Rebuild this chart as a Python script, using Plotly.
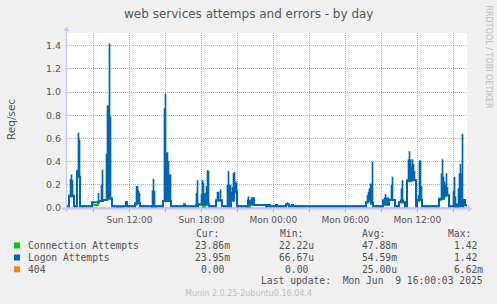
import plotly.graph_objects as go
from datetime import datetime, timedelta

# ---------------- data ----------------
start = datetime(2025, 6, 8, 6, 48)   # left edge of graph (Sun 06:48)
step_min = 5                           # one sample every 5 minutes
n_slots = 400                          # 2000 minutes shown

B = 0.015  # quiet baseline, req/sec

# Logon Attempts - lower profile (slot where value changes, value)
logon_slot = [0, 2, 7, 10, 11, 13, 25, 32, 36, 40, 45, 59, 60, 68, 73, 96, 104, 117, 118,
              131, 142, 149, 155, 164, 167, 170, 181, 183, 185, 187, 199, 201, 203, 209, 210,
              219, 222, 225, 226, 299, 301, 304, 306, 316, 317, 322, 328, 332, 334, 336, 338,
              340, 349, 350, 355, 372, 377, 382, 389, 391, 396, 398]
logon_val = [B, 0.10, B, 0.32, 0.27, B, 0.05, 0.06, 0.07, 0.085, B, 0.05, B, 0.04, B, 0.06, B, 0.03, B,
             0.03, B, 0.065, B, 0.065, 0.14, B, 0.065, 0.03, 0.085, 0.025, B, 0.025, B, 0.025, B,
             0.03, B, 0.025, B, 0.05, 0.065, 0.045, B, 0.065, 0.035, 0.07, B, 0.05, 0.065, 0.05, B,
             0.24, B, 0.07, B, 0.08, 0.11, B, 0.03, B, 0.07, 0.02395]

# Logon Attempts - short bursts within a 5-minute slot (slot, peak)
burst_slot = [3, 4, 5, 11, 12,
              31, 34, 35, 39, 40, 41, 42, 43,
              69, 70, 71, 72, 85, 86, 87,
              97, 98, 99, 100, 101, 102, 103,
              129, 130, 134, 135, 136, 137, 138, 139, 140, 141,
              150, 151, 153,
              160, 161, 162, 163, 164, 165, 166, 167, 168, 169,
              181, 220,
              300, 301, 302, 303, 304, 305,
              317, 318, 319, 320, 321, 324, 325,
              334, 335,
              341, 342, 343, 344, 345, 346, 347,
              351, 352, 353, 354,
              374, 375, 376, 377, 378, 379, 380,
              386, 387, 388, 391, 392, 393, 394, 395]
burst_peak = [0.25, 0.29, 0.24, 0.65, 0.59,
              0.13, 0.20, 0.33, 0.47, 0.885, 0.885, 1.42, 0.79,
              0.19, 0.19, 0.15, 0.13, 0.15, 0.25, 0.15,
              0.86, 0.986, 0.48, 0.48, 0.405, 0.29, 0.29,
              0.13, 0.24, 0.12, 0.24, 0.22, 0.125, 0.13, 0.19, 0.325, 0.32,
              0.14, 0.14, 0.16,
              0.20, 0.32, 0.20, 0.20, 0.14, 0.18, 0.30, 0.31, 0.23, 0.22,
              0.10, 0.05,
              0.11, 0.14, 0.17, 0.21, 0.21, 0.40,
              0.09, 0.12, 0.09, 0.09, 0.09, 0.20, 0.27,
              0.17, 0.24,
              0.42, 0.49, 0.42, 0.37, 0.42, 0.38, 0.32,
              0.11, 0.41, 0.41, 0.19,
              0.30, 0.42, 0.27, 0.23, 0.20, 0.30, 0.18,
              0.15, 0.27, 0.10, 0.17, 0.30, 0.38, 0.30, 0.64]

# Connection Attempts (mostly hidden beneath Logon Attempts)
conn_slot = [0, 2, 7, 10, 11, 13, 25, 31, 32, 36, 40, 45, 50, 56, 59, 60, 68, 70, 73, 84, 89, 96, 104,
             117, 118, 129, 136, 138, 142, 149, 155, 164, 167, 170, 181, 183, 185, 187, 199, 201, 203,
             209, 210, 219, 222, 225, 226, 299, 301, 304, 306, 316, 317, 322, 328, 332, 334, 336, 338,
             340, 344, 349, 350, 352, 355, 372, 374, 377, 379, 382, 388, 391, 396, 398]
conn_val = [B, 0.108, B, 0.32, 0.27, B, 0.025, 0.05, 0.06, 0.07, 0.075, B, 0.004, B, 0.05, B, 0.028, 0.04, B,
            0.004, B, 0.06, B,
            0.03, B, 0.03, 0.01, 0.03, B, 0.065, B, 0.065, 0.13, B, 0.004, 0.03, 0.03, 0.025, B, 0.025, B,
            0.025, B, 0.03, B, 0.025, B, 0.05, 0.065, 0.035, B, 0.065, 0.025, 0.07, B, 0.05, 0.055, 0.05, B,
            0.23, 0.24, B, 0.06, 0.07, B, 0.07, 0.08, 0.10, 0.11, B, 0.004, B, 0.07, 0.02386]

# 404
err_slot = [0]
err_val = [0.0]

y_ticks = [0.0, 0.2, 0.4, 0.6, 0.8, 1.0, 1.2, 1.4]
y_tick_text = ["0.0", "0.2", "0.4", "0.6", "0.8", "1.0", "1.2", "1.4"]
grid_times = ["2025-06-08 09:00", "2025-06-08 12:00", "2025-06-08 15:00", "2025-06-08 18:00",
              "2025-06-08 21:00", "2025-06-09 00:00", "2025-06-09 03:00", "2025-06-09 06:00",
              "2025-06-09 09:00", "2025-06-09 12:00", "2025-06-09 15:00"]
grid_labels = ["", "Sun 12:00", "", "Sun 18:00", "", "Mon 00:00", "", "Mon 06:00", "", "Mon 12:00", ""]

series_names = ["Connection Attempts", "Logon Attempts", "404"]
series_colors = ["#00CC00", "#0066B3", "#FF8000"]
cur_vals = ["23.86m", "23.95m", "0.00"]
min_vals = ["22.22u", "66.67u", "0.00"]
avg_vals = ["47.88m", "54.59m", "25.00u"]
max_vals = ["1.42", "1.42", "6.62m"]
title = "web services attemps and errors - by day"
last_update = "Last update:  Mon Jun  9 16:00:03 2025"
munin_version = "Munin 2.0.25-2ubuntu0.16.04.4"

# ---------------- helpers ----------------
def t(slot):
    return start + timedelta(minutes=step_min * slot)


def step_xy(slots, vals):
    xs = [t(s) for s in slots] + [t(n_slots)]
    ys = list(vals) + [vals[-1]]
    return xs, ys


def value_at(slots, vals, s):
    v = vals[0]
    for ss, vv in zip(slots, vals):
        if ss <= s:
            v = vv
        else:
            break
    return v


W, H = 497, 304
L, R, T, Bm = 67, 30, 33, 96
PW, PH = W - L - R, H - T - Bm


def px(x):
    return (x - L) / PW


def py(y):
    return (H - Bm - y) / PH


# ---------------- figure ----------------
fig = go.Figure()

ex, ey = step_xy(err_slot, err_val)
cx, cy = step_xy(conn_slot, conn_val)
lx, ly = step_xy(logon_slot, logon_val)

fig.add_trace(go.Scatter(x=cx, y=cy, mode="lines", line=dict(color=series_colors[0], width=2, shape="hv"),
                         name=series_names[0], hoverinfo="skip"))

bx, by = [], []
for s, peak in zip(burst_slot, burst_peak):
    lo = value_at(logon_slot, logon_val, s)
    tc = start + timedelta(minutes=step_min * (s + 0.5))
    bx += [tc, tc, None]
    by += [lo, peak, None]
fig.add_trace(go.Scatter(x=bx, y=by, mode="lines", line=dict(color=series_colors[1], width=1.7),
                         name=series_names[1], hoverinfo="skip", connectgaps=False))
fig.add_trace(go.Scatter(x=lx, y=ly, mode="lines", line=dict(color=series_colors[1], width=2, shape="hv"),
                         name=series_names[1], hoverinfo="skip"))
fig.add_trace(go.Scatter(x=ex, y=ey, mode="lines", line=dict(color=series_colors[2], width=1, shape="hv"),
                         name=series_names[2], hoverinfo="skip"))

grid_color = "rgba(220,80,80,0.6)"
fig.update_xaxes(type="date", range=[t(0), t(n_slots)], tickvals=grid_times, ticktext=grid_labels,
                 showgrid=True, gridcolor=grid_color, griddash="1px,1px", gridwidth=1,
                 showline=False, zeroline=False, ticks="outside", ticklen=3, tickcolor=grid_color,
                 tickfont=dict(family="DejaVu Sans", size=9, color="#555555"), fixedrange=True)
fig.update_yaxes(range=[0, 1.51], tickvals=y_ticks, ticktext=y_tick_text,
                 showgrid=True, gridcolor=grid_color, griddash="1px,1px", gridwidth=1,
                 showline=False, zeroline=False, ticks="", ticklabelstandoff=5,
                 tickfont=dict(family="DejaVu Sans", size=9.5, color="#555555"), fixedrange=True)

axis_col = "#C8C8F8"
shapes = [
    # x axis line and arrow
    dict(type="line", xref="paper", yref="paper", x0=px(62), x1=px(469), y0=py(208.8), y1=py(208.8),
         line=dict(color=axis_col, width=2), layer="above"),
    dict(type="path", xref="paper", yref="paper",
         path=f"M {px(468)},{py(205.5)} L {px(473)},{py(208.8)} L {px(468)},{py(212)} Z",
         fillcolor=axis_col, line=dict(color=axis_col, width=0), layer="above"),
    # y axis line and arrow
    dict(type="line", xref="paper", yref="paper", x0=px(66.5), x1=px(66.5), y0=py(212), y1=py(30),
         line=dict(color=axis_col, width=1.3), layer="above"),
    dict(type="path", xref="paper", yref="paper",
         path=f"M {px(63.5)},{py(31)} L {px(66.5)},{py(26.5)} L {px(69.5)},{py(31)} Z",
         fillcolor=axis_col, line=dict(color=axis_col, width=0), layer="above"),
]
row_y = [245.5, 257.5, 269.3]
for col, yy in zip(series_colors, row_y):
    shapes.append(dict(type="rect", xref="paper", yref="paper", x0=px(14), x1=px(20),
                       y0=py(yy - 3), y1=py(yy + 3), fillcolor=col, line=dict(width=0)))

nb = "\u00a0"
ann = []


def text(x, y, s, size, color, family="DejaVu Sans Mono", xanchor="left", angle=0):
    ann.append(dict(x=px(x), y=py(y), xref="paper", yref="paper", text=s.replace(" ", nb),
                    showarrow=False, xanchor=xanchor, yanchor="middle", textangle=angle,
                    borderpad=0, font=dict(family=family, size=size, color=color)))


text(248, 14, title, 12, "#555555", family="DejaVu Sans", xanchor="center")
text(11, 119, "Req/sec", 10.5, "#555555", family="DejaVu Sans", xanchor="center", angle=-90)
text(488, 56.5, "RRDTOOL / TOBI OETIKER", 8, "#BBBBBB", family="DejaVu Sans", xanchor="center", angle=90)

mono = 9.7
lc = "#505050"
text(195, 233.5, "Cur:", mono, lc)
text(279.3, 233.5, "Min:", mono, lc)
text(360.7, 233.5, "Avg:", mono, lc)
text(447.3, 233.5, "Max:", mono, lc)


def unitpad(v):
    return v if v[-1].isalpha() else v + " "


for i, yy in enumerate(row_y):
    text(26.7, yy, series_names[i], mono, lc)
    text(230.5, yy, unitpad(cur_vals[i]), mono, lc, xanchor="right")
    text(315.2, yy, unitpad(min_vals[i]), mono, lc, xanchor="right")
    text(398.3, yy, unitpad(avg_vals[i]), mono, lc, xanchor="right")
    text(483.5, yy, unitpad(max_vals[i]), mono, lc, xanchor="right")

text(483.5, 280.5, last_update, mono, lc, xanchor="right")
text(248.5, 293, munin_version, 8, "#C0C0C0", family="DejaVu Sans", xanchor="center")

fig.update_layout(width=W, height=H, margin=dict(l=L, r=R, t=T, b=Bm, pad=0),
                  paper_bgcolor="#F0F0F0", plot_bgcolor="#FFFFFF", showlegend=False,
                  shapes=shapes, annotations=ann)

fig.write_html("out.html", config={"displayModeBar": False})
